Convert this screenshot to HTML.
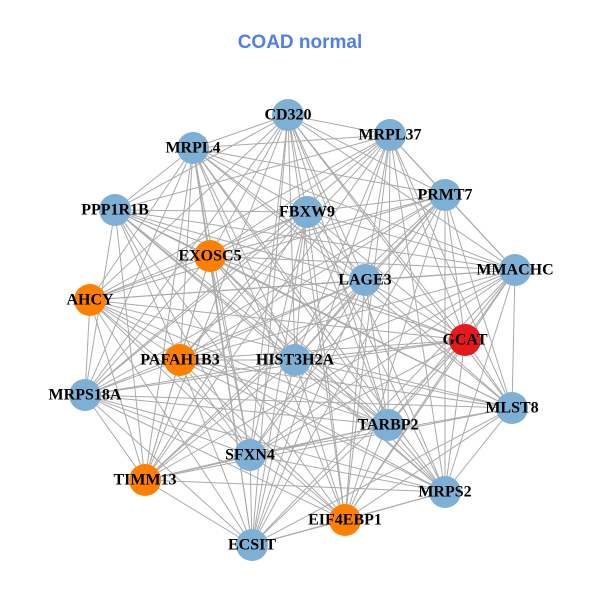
<!DOCTYPE html>
<html><head><meta charset="utf-8"><style>
html,body{margin:0;padding:0;background:#fff;}
svg{display:block;}
.l{font-family:"Liberation Serif",serif;font-weight:bold;font-size:16px;fill:#000;text-anchor:middle;dominant-baseline:central;}
</style></head><body>
<svg id="s" width="600" height="600" viewBox="0 0 600 600">
<rect width="600" height="600" fill="#fff"/>
<text x="300" y="48" text-anchor="middle" font-family="Liberation Sans, sans-serif" font-weight="bold" font-size="19" fill="#4f7fe9">COAD normal</text>
<g id="e" stroke="#aaaaaa" stroke-width="1"></g>
<g id="n"></g>
<g>
<text class="l" x="288" y="115">CD320</text>
<text class="l" x="390" y="135">MRPL37</text>
<text class="l" x="193" y="148">MRPL4</text>
<text class="l" x="445" y="195">PRMT7</text>
<text class="l" x="115" y="210">PPP1R1B</text>
<text class="l" x="307" y="212">FBXW9</text>
<text class="l" x="210" y="256">EXOSC5</text>
<text class="l" x="515" y="270">MMACHC</text>
<text class="l" x="365" y="280">LAGE3</text>
<text class="l" x="90" y="300">AHCY</text>
<text class="l" x="465" y="340">GCAT</text>
<text class="l" x="180" y="360">PAFAH1B3</text>
<text class="l" x="295" y="360">HIST3H2A</text>
<text class="l" x="85" y="395">MRPS18A</text>
<text class="l" x="512" y="408">MLST8</text>
<text class="l" x="388" y="425">TARBP2</text>
<text class="l" x="250" y="455">SFXN4</text>
<text class="l" x="145" y="480">TIMM13</text>
<text class="l" x="445" y="492">MRPS2</text>
<text class="l" x="345" y="520">EIF4EBP1</text>
<text class="l" x="252" y="545">ECSIT</text>
</g>
</svg>
<script>
var N=[[288,115,0],[390,135,0],[193,148,0],[445,195,0],[115,210,0],[307,212,0],[210,256,1],[515,270,0],[365,280,0],[90,300,1],[465,340,2],[180,360,1],[295,360,0],[85,395,0],[512,408,0],[388,425,0],[250,455,0],[145,480,1],[445,492,0],[345,520,1],[252,545,0]];
var ns="http://www.w3.org/2000/svg",e=document.getElementById('e'),g=document.getElementById('n');
var c=["#7eb0d5","#ff8000","#e41a1c"];
for(var i=0;i<N.length;i++)for(var j=i+1;j<N.length;j++){
 if((i*7+j*3)%11==0)continue;
 var l=document.createElementNS(ns,'line');
 l.setAttribute('x1',N[i][0]);l.setAttribute('y1',N[i][1]);l.setAttribute('x2',N[j][0]);l.setAttribute('y2',N[j][1]);e.appendChild(l);}
for(var i=0;i<N.length;i++){var k=document.createElementNS(ns,'circle');
 k.setAttribute('cx',N[i][0]);k.setAttribute('cy',N[i][1]);k.setAttribute('r',16);k.setAttribute('fill',c[N[i][2]]);g.appendChild(k);}
</script>
</body></html>
